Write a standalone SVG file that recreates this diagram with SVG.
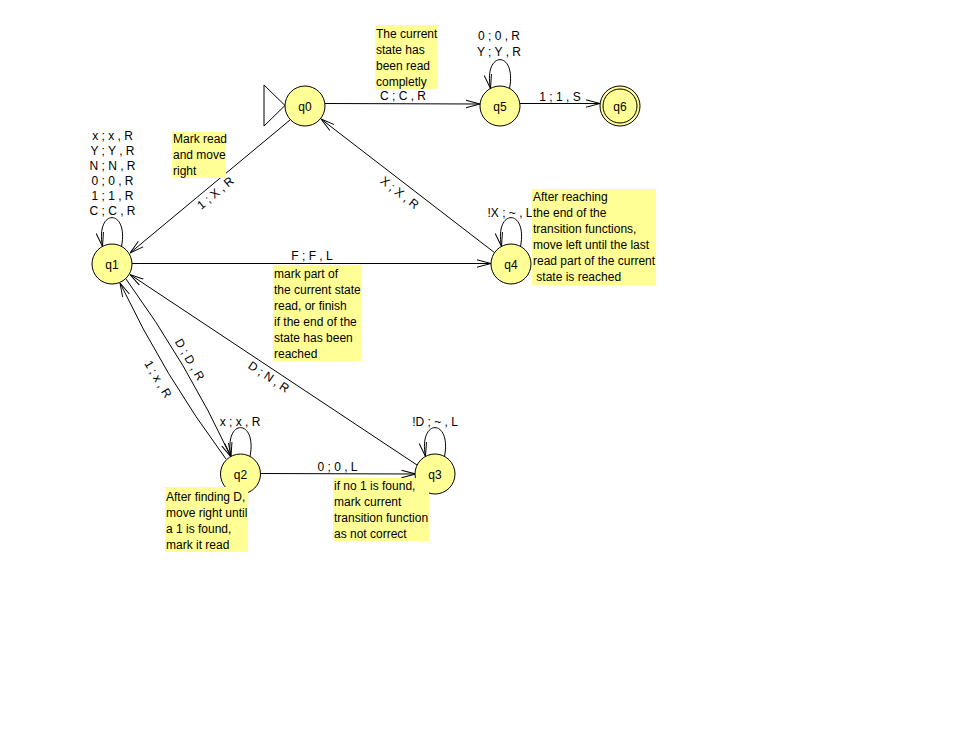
<svg xmlns="http://www.w3.org/2000/svg" width="953" height="743" viewBox="0 0 953 743">
  <style>
    .state { fill: #ffff96; stroke: #000; stroke-width: 1; }
    .edge { fill: none; stroke: #000; stroke-width: 1; marker-end: url(#arrow); }
    .lbl { font-family: "Liberation Sans", Arial, sans-serif; font-size: 12px; fill: #000; }
    .mid { text-anchor: middle; }
    .note { fill: #ffff96; stroke: none; }
  </style>
  <defs>
    <!-- open V arrowhead used by every transition -->
    <marker id="arrow" viewBox="0 0 14 10" refX="14" refY="5" markerWidth="14" markerHeight="10" markerUnits="userSpaceOnUse" orient="auto">
      <path d="M0,1.3 L14,5 L0,8.7" fill="none" stroke="#000" stroke-width="1"/>
    </marker>
  </defs>

  <rect x="0" y="0" width="953" height="743" fill="#fff"/>

  <!-- transitions -->
  <g id="connectors">
    <path class="edge" d="M325,103.5 L480,104"/>
    <path class="edge" d="M520,103.5 L600,103.5"/>
    <path class="edge" d="M290,120 L130,253"/>
    <path class="edge" d="M495,253 L321,119"/>
    <path class="edge" d="M132,263.5 L491,263.5"/>
    <path class="edge" d="M260.5,473.5 L415.5,474"/>
    <path class="edge" d="M417,465 L130,274.5"/>
    <path class="edge" d="M126,279 Q187.1,362.9 231,457"/>
    <path class="edge" d="M226,459 Q164.4,376.2 120,283"/>
    <!-- self loops -->
    <path class="edge" d="M121.5,246.5 C129,208 95,208 102.5,246.5"/>
    <path class="edge" d="M509.5,88.5 C517,50 483,50 490.5,88.5"/>
    <path class="edge" d="M520.5,246.5 C528,208 494,208 501.5,246.5"/>
    <path class="edge" d="M250,456.5 C257.5,418 223.5,418 231,456.5"/>
    <path class="edge" d="M444.5,456.5 C452,418 418,418 425.5,456.5"/>

    <!-- transition labels -->
    <text class="lbl mid" x="403" y="100">C ; C , R</text>
    <text class="lbl mid" x="560" y="100.5">1 ; 1 , S</text>
    <text class="lbl mid" x="312" y="260">F ; F , L</text>
    <text class="lbl mid" x="337.5" y="470.5">0 ; 0 , L</text>
    <text class="lbl mid" transform="translate(210,186.5) rotate(-39.7)" y="12.5">1 ; X , R</text>
    <text class="lbl mid" transform="translate(408,186) rotate(37.6)" x="-2.6" y="14.5">X ; X , R</text>
    <text class="lbl mid" transform="translate(273.5,369.75) rotate(33.6)" y="12.6">D ; N , R</text>
    <text class="lbl mid" transform="translate(178.5,368) rotate(59.5)" x="-1.5" y="-9.9">D ; D , R</text>
    <text class="lbl mid" transform="translate(173,371) rotate(58.9)" x="-0.8" y="21">1 ; x , R</text>

    <text class="lbl mid" x="112.5" y="140">x ; x , R</text>
    <text class="lbl mid" x="112.5" y="155">Y ; Y , R</text>
    <text class="lbl mid" x="112.5" y="170">N ; N , R</text>
    <text class="lbl mid" x="112.5" y="185">0 ; 0 , R</text>
    <text class="lbl mid" x="112.5" y="200">1 ; 1 , R</text>
    <text class="lbl mid" x="112.5" y="215">C ; C , R</text>

    <text class="lbl mid" x="499" y="40">0 ; 0 , R</text>
    <text class="lbl mid" x="499" y="56">Y ; Y , R</text>

    <text class="lbl mid" x="510" y="217">!X ; ~ , L</text>
    <text class="lbl mid" x="240" y="425.7">x ; x , R</text>
    <text class="lbl mid" x="435" y="425.7">!D ; ~ , L</text>
  </g>

  <!-- states -->
  <g id="q0">
    <polygon points="264,85 264,126 285,105.5" fill="#fff" stroke="#000" stroke-width="1"/>
    <circle class="state" cx="305" cy="106" r="20"/>
    <text class="lbl mid" x="305" y="110.5">q0</text>
  </g>
  <g id="q5">
    <circle class="state" cx="500" cy="106" r="20"/>
    <text class="lbl mid" x="500" y="110.5">q5</text>
  </g>
  <g id="q6">
    <circle class="state" cx="620" cy="106" r="20"/>
    <circle cx="620" cy="106" r="17" fill="none" stroke="#000" stroke-width="1"/>
    <text class="lbl mid" x="620" y="110.5">q6</text>
  </g>
  <g id="q1">
    <circle class="state" cx="112" cy="264" r="20"/>
    <text class="lbl mid" x="112" y="268.5">q1</text>
  </g>
  <g id="q4">
    <circle class="state" cx="511" cy="264" r="20"/>
    <text class="lbl mid" x="511" y="268.5">q4</text>
  </g>
  <g id="q2">
    <circle class="state" cx="240.5" cy="474" r="20"/>
    <text class="lbl mid" x="240.5" y="478.5">q2</text>
  </g>
  <g id="q3">
    <circle class="state" cx="435" cy="474" r="20"/>
    <text class="lbl mid" x="435" y="478.5">q3</text>
  </g>

  <!-- notes -->
  <g id="note-read">
    <rect class="note" x="375" y="25" width="62" height="64"/>
    <text class="lbl" x="376" y="38">The current</text>
    <text class="lbl" x="376" y="54">state has</text>
    <text class="lbl" x="376" y="70">been read</text>
    <text class="lbl" x="376" y="86">completly</text>
  </g>
  <g id="note-mark">
    <rect class="note" x="172" y="132" width="54" height="46"/>
    <text class="lbl" x="173" y="143">Mark read</text>
    <text class="lbl" x="173" y="159">and move</text>
    <text class="lbl" x="173" y="175">right</text>
  </g>
  <g id="note-back">
    <rect class="note" x="532" y="189" width="124" height="96"/>
    <text class="lbl" x="533" y="201">After reaching</text>
    <text class="lbl" x="533" y="217">the end of the</text>
    <text class="lbl" x="533" y="233">transition functions,</text>
    <text class="lbl" x="533" y="249">move left until the last</text>
    <text class="lbl" x="533" y="265">read part of the current</text>
    <text class="lbl" x="533" y="281" xml:space="preserve"> state is reached</text>
  </g>
  <g id="note-part">
    <rect class="note" x="273" y="265" width="88" height="96"/>
    <text class="lbl" x="274" y="278">mark part of</text>
    <text class="lbl" x="274" y="294">the current state</text>
    <text class="lbl" x="274" y="310">read, or finish</text>
    <text class="lbl" x="274" y="326">if the end of the</text>
    <text class="lbl" x="274" y="342">state has been</text>
    <text class="lbl" x="274" y="358">reached</text>
  </g>
  <g id="note-find">
    <rect class="note" x="165" y="487" width="83" height="65"/>
    <text class="lbl" x="166" y="501">After finding D,</text>
    <text class="lbl" x="166" y="517">move right until</text>
    <text class="lbl" x="166" y="533">a 1 is found,</text>
    <text class="lbl" x="166" y="549">mark it read</text>
  </g>
  <g id="note-fail">
    <rect class="note" x="333" y="478" width="96" height="63"/>
    <text class="lbl" x="334" y="490">if no 1 is found,</text>
    <text class="lbl" x="334" y="506">mark current</text>
    <text class="lbl" x="334" y="522">transition function</text>
    <text class="lbl" x="334" y="538">as not correct</text>
  </g>
</svg>
